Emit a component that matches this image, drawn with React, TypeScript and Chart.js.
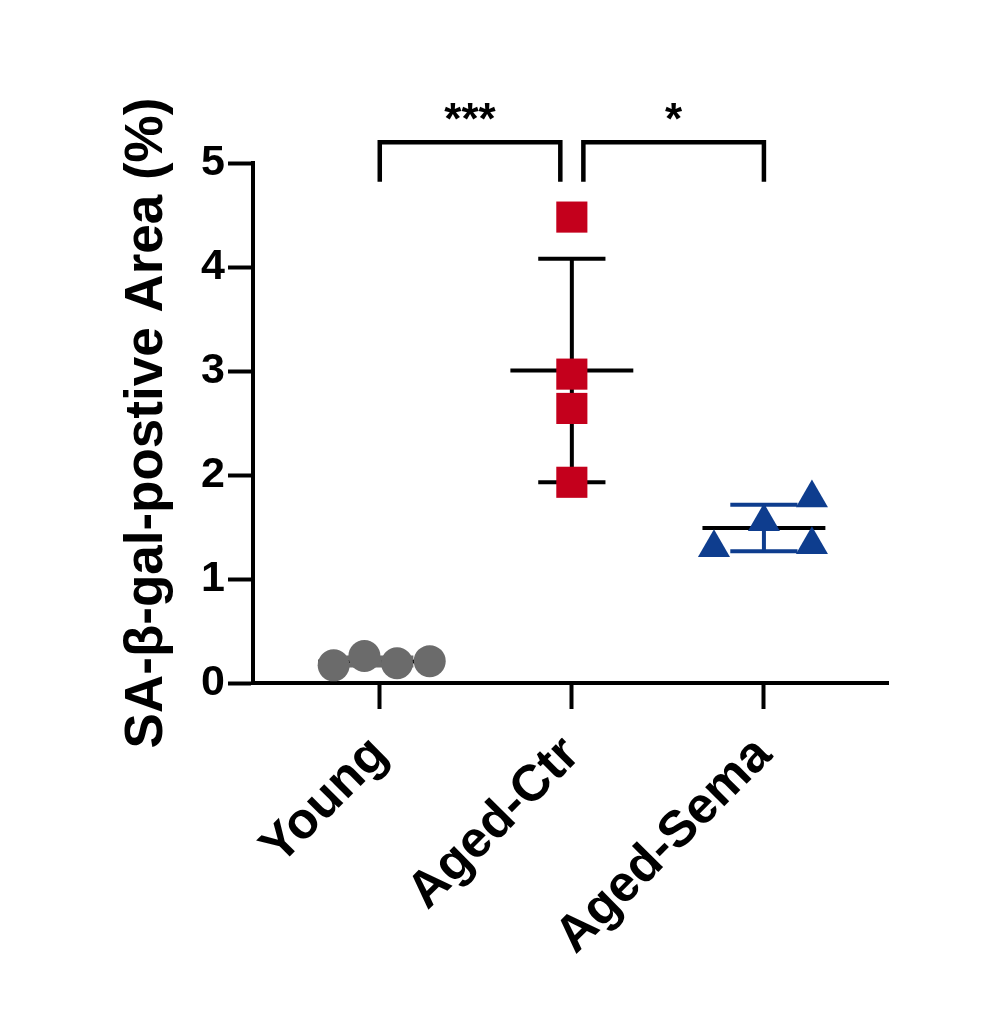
import React, { useEffect, useRef } from 'react';
import { Chart, registerables } from 'chart.js';

Chart.register(...registerables);

// ---- data ----
const categories = ['Young', 'Aged-Ctr', 'Aged-Sema'];
const youngValues = [0.17, 0.26, 0.19, 0.21];
const youngJitter = [-0.24, -0.08, 0.09, 0.26];
const agedCtrValues = [4.48, 2.97, 2.64, 1.93];
const agedCtrJitter = [0, 0, 0, 0];
const agedSemaValues = [1.3, 1.55, 1.78, 1.33];
const agedSemaJitter = [-0.26, 0, 0.25, 0.25];
const yTickValues = [0, 1, 2, 3, 4, 5];
const bracketStarts = [0, 1.06];
const bracketEnds = [0.94, 2];
const bracketLabels = ['***', '*'];
const bracketTop = 5.2;
const bracketBottom = 4.82;

const groupValues = [youngValues, agedCtrValues, agedSemaValues];
const groupJitter = [youngJitter, agedCtrJitter, agedSemaJitter];
const groupColors = ['#6b6b6b', '#c4001c', '#0e3d8e'];
const groupStyles = ['circle', 'rect', 'triangle'];
const groupRadius = [16, 22, 18.5];
const errorColors = ['#6b6b6b', '#000000', '#0e3d8e'];

const FONT = '"Liberation Sans", Arial, sans-serif';

function mean(a: number[]) {
  return a.reduce((s, v) => s + v, 0) / a.length;
}
function sd(a: number[]) {
  const m = mean(a);
  return Math.sqrt(a.reduce((s, v) => s + (v - m) * (v - m), 0) / (a.length - 1));
}

function seg(data: { x: number; y: number }[], color: string, width: number, clip = true): any {
  return {
    type: 'scatter',
    data,
    showLine: true,
    borderColor: color,
    borderWidth: width,
    pointRadius: 0,
    pointHoverRadius: 0,
    fill: false,
    tension: 0,
    order: 2,
    borderCapStyle: 'butt',
    borderJoinStyle: 'miter',
    clip: clip ? undefined : false,
  };
}

export default function App() {
  const ref = useRef<HTMLCanvasElement | null>(null);

  useEffect(() => {
    if (!ref.current) return;
    const datasets: any[] = [];

    groupValues.forEach((vals, i) => {
      const m = mean(vals);
      const s = sd(vals);
      const meanHalf = 0.32;
      const capHalf = 0.175;
      datasets.push(seg([{ x: i, y: m - s }, { x: i, y: m + s }], errorColors[i], 4));
      datasets.push(seg([{ x: i - capHalf, y: m + s }, { x: i + capHalf, y: m + s }], errorColors[i], 4));
      datasets.push(seg([{ x: i - capHalf, y: m - s }, { x: i + capHalf, y: m - s }], errorColors[i], 4));
      datasets.push(seg([{ x: i - meanHalf, y: m }, { x: i + meanHalf, y: m }], '#000000', 4));
    });

    groupValues.forEach((vals, i) => {
      datasets.push({
        type: 'scatter',
        data: vals.map((v, k) => ({ x: i + groupJitter[i][k], y: v })),
        pointStyle: groupStyles[i],
        pointRadius: groupRadius[i],
        pointHoverRadius: groupRadius[i],
        backgroundColor: groupColors[i],
        borderColor: groupColors[i],
        borderWidth: 0,
        showLine: false,
        order: 1,
        clip: false,
      });
    });

    bracketStarts.forEach((s, i) => {
      const e = bracketEnds[i];
      datasets.push(
        seg(
          [
            { x: s, y: bracketBottom },
            { x: s, y: bracketTop },
            { x: e, y: bracketTop },
            { x: e, y: bracketBottom },
          ],
          '#000000',
          4.5,
          false
        )
      );
    });

    const starsPlugin = {
      id: 'stars',
      afterDatasetsDraw(chart: any) {
        const { ctx, scales } = chart;
        ctx.save();
        ctx.fillStyle = '#000';
        ctx.font = `bold 44px ${FONT}`;
        ctx.textAlign = 'center';
        ctx.textBaseline = 'alphabetic';
        bracketLabels.forEach((lab, i) => {
          const x = (scales.x.getPixelForValue(bracketStarts[i]) + scales.x.getPixelForValue(bracketEnds[i])) / 2;
          const y = scales.y.getPixelForValue(bracketTop) - 8;
          ctx.fillText(lab, x, y);
        });
        ctx.restore();
      },
    };

    const bgPlugin = {
      id: 'bg',
      beforeDraw(chart: any) {
        const { ctx, width, height } = chart;
        ctx.save();
        ctx.fillStyle = '#ffffff';
        ctx.fillRect(0, 0, width, height);
        ctx.restore();
      },
    };

    const chart = new Chart(ref.current, {
      type: 'scatter',
      data: { datasets },
      options: {
        animation: false,
        responsive: false,
        events: [],
        layout: { padding: { top: 163, right: 107, left: 0, bottom: 0 } },
        plugins: { legend: { display: false }, tooltip: { enabled: false } },
        scales: {
          x: {
            type: 'linear',
            min: -0.66,
            max: 2.646,
            afterBuildTicks: (scale: any) => {
              scale.ticks = categories.map((_, i) => ({ value: i }));
            },
            afterFit: (scale: any) => {
              scale.height = 341;
            },
            ticks: {
              autoSkip: false,
              maxRotation: 45,
              minRotation: 45,
              padding: 16,
              color: '#000',
              font: { family: FONT, size: 51, weight: 'bold' },
              callback: (v: any) => categories[Math.round(Number(v))] ?? '',
            },
            grid: { drawOnChartArea: false, tickLength: 26, tickWidth: 4, tickColor: '#000' },
            border: { width: 4, color: '#000' },
          },
          y: {
            type: 'linear',
            min: 0,
            max: 5,
            afterBuildTicks: (scale: any) => {
              scale.ticks = yTickValues.map((v) => ({ value: v }));
            },
            afterFit: (scale: any) => {
              scale.width = 253;
            },
            ticks: {
              padding: 3,
              color: '#000',
              font: { family: FONT, size: 43, weight: 'bold' },
            },
            grid: { drawOnChartArea: false, tickLength: 25, tickWidth: 4, tickColor: '#000' },
            border: { width: 4, color: '#000' },
            title: {
              display: true,
              text: 'SA-β-gal-postive Area (%)',
              color: '#000',
              font: { family: FONT, size: 53, weight: 'bold' },
              padding: { top: 116, bottom: 0 },
            },
          },
        },
      },
      plugins: [bgPlugin, starsPlugin],
    } as any);

    return () => chart.destroy();
  }, []);

  return (
    <div style={{ position: 'absolute', left: 0, top: 0, width: 995, height: 1024, background: '#fff' }}>
      <canvas ref={ref} width={995} height={1024} style={{ width: 995, height: 1024, display: 'block' }} />
    </div>
  );
}
